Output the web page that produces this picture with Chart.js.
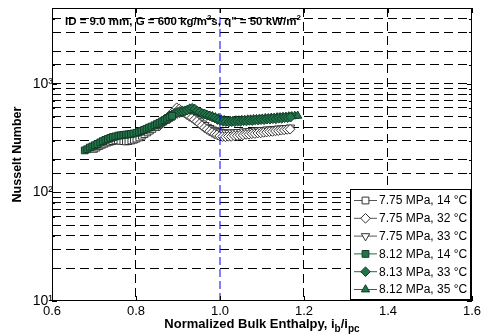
<!DOCTYPE html>
<html><head><meta charset="utf-8">
<script src="https://cdn.jsdelivr.net/npm/chart.js@4.4.0/dist/chart.umd.min.js"></script>
<style>html,body{margin:0;padding:0;background:#fff}#wrap{width:484px;height:336px}</style>
</head><body><div id="wrap"><canvas id="c" width="484" height="336"></canvas></div>
<script>
// ---- data ----
const seriesLabels = ['7.75 MPa, 14 °C','7.75 MPa, 32 °C','7.75 MPa, 33 °C','8.12 MPa, 14 °C','8.13 MPa, 33 °C','8.12 MPa, 35 °C'];

const xOpen14 = [0.700,0.706,0.713,0.719,0.725,0.732,0.738,0.744,0.751,0.757,0.763,0.770,0.776,0.782,0.789,0.795,0.801,0.808,0.814,0.820,0.827,0.833,0.839,0.846,0.852,0.858,0.865,0.871,0.877,0.884];
const nuOpen14 = [252,259,268,275,281,288,293,297,301,302,299,297,295,297,301,306,313,321,333,344,357,371,385,401,416,431,449,466,481,497];

const xOpen32 = [0.855,0.861,0.867,0.873,0.879,0.885,0.891,0.897,0.903,0.909,0.915,0.921,0.927,0.933,0.939,0.945,0.951,0.957,0.963,0.969,0.975,0.981,0.987,0.993,0.999,1.006,1.013,1.020,1.027,1.034,1.041,1.048,1.055,1.062,1.069,1.076,1.083,1.090,1.097,1.104,1.111,1.118,1.125,1.132,1.139,1.146,1.153,1.160,1.167];
const nuOpen32 = [408,431,451,479,503,536,566,603,588,566,541,521,503,489,468,451,429,413,394,381,367,357,345,339,331,327,325,328,328,332,333,337,338,342,343,347,348,352,353,357,359,363,364,368,370,374,376,380,382];

const xOpen33 = [0.880,0.886,0.892,0.898,0.904,0.910,0.916,0.922,0.928,0.934,0.940,0.946,0.952,0.958,0.964,0.970,0.976,0.982,0.988,0.994,1.000,1.007,1.014,1.021,1.028,1.035,1.042,1.049,1.056,1.063,1.070,1.077,1.084,1.091,1.098,1.105,1.112,1.119,1.126,1.133,1.140,1.147,1.154,1.161,1.168];
const nuOpen33 = [478,499,519,531,541,547,553,544,531,511,493,471,453,433,419,403,393,381,375,367,364,358,358,355,358,357,361,361,365,365,369,369,373,373,377,377,381,381,385,385,389,389,393,393,397];

const xGreen14 = [0.678,0.684,0.690,0.696,0.702,0.708,0.715,0.721,0.727,0.733,0.739,0.745,0.751,0.758,0.764,0.770,0.776,0.782,0.788,0.794,0.801,0.807,0.813,0.819,0.825,0.831,0.837,0.844,0.850,0.856,0.862,0.868,0.874,0.880,0.886];
const nuGreen14 = [244,250,259,265,272,279,289,297,305,311,318,324,328,334,336,339,341,343,346,349,354,360,367,376,385,395,404,415,426,438,451,463,477,492,507];

const xGreen33 = [0.862,0.868,0.874,0.880,0.886,0.892,0.898,0.904,0.910,0.916,0.922,0.928,0.934,0.940,0.946,0.952,0.958,0.964,0.970,0.976,0.982,0.988,0.994,1.000,1.007,1.014,1.021,1.028,1.035,1.042,1.049,1.056,1.063,1.070,1.077,1.084,1.091,1.098,1.105,1.112,1.119,1.126,1.133,1.140,1.147,1.154,1.161,1.168];
const nuGreen33 = [452,472,486,507,520,539,548,557,559,566,574,591,597,586,563,549,533,526,513,506,493,484,469,461,451,449,445,448,448,452,451,456,455,460,459,464,463,468,467,473,472,477,476,482,481,487,488,493];

const xGreen35 = [0.905,0.912,0.919,0.926,0.933,0.940,0.947,0.954,0.961,0.968,0.975,0.982,0.989,0.996,1.003,1.010,1.017,1.024,1.031,1.038,1.045,1.052,1.059,1.066,1.073,1.080,1.087,1.094,1.101,1.108,1.115,1.122,1.129,1.136,1.143,1.150,1.157,1.164,1.171,1.178,1.185];
const nuGreen35 = [538,553,561,567,560,556,546,541,527,519,508,503,491,481,469,463,457,457,456,460,460,464,465,469,469,473,473,477,478,482,482,487,487,491,492,496,497,501,502,506,508];

const pcLineX = [1, 1];
const pcLineY = [10, 5000];

const xTickValues = [0.6, 0.8, 1.0, 1.2, 1.4, 1.6];
const yMajorLabels = {10: '10¹', 100: '10²', 1000: '10³'};
const annotationParts = ['ID = 9.0 mm, G = 600 kg/m', '2', 's, q" = 50 kW/m', '2'];
const xTitleParts = ['Normalized Bulk Enthalpy, i', 'b', '/i', 'pc'];
const yTitle = 'Nusselt Number';

// ---- styling ----
const FONT = '"Liberation Sans", Arial, Helvetica, sans-serif';
Chart.defaults.font.family = FONT;
const OPEN_EDGE = '#333333', OPEN_LINE = '#555555';
const GREEN_FILL = '#22744a', GREEN_EDGE = '#123d27', GREEN_LINE = '#1f6b44';

const pts = (xs, ys) => xs.map((x, i) => ({x: x, y: ys[i]}));

function mk(label, xs, ys, style, open, rot) {
  return {
    label: label, data: pts(xs, ys), showLine: true,
    borderColor: open ? OPEN_LINE : GREEN_LINE, borderWidth: 1,
    pointStyle: style, pointRotation: rot || 0,
    pointRadius: 4.8,
    pointBackgroundColor: open ? '#ffffff' : GREEN_FILL,
    pointBorderColor: open ? OPEN_EDGE : GREEN_EDGE,
    pointBorderWidth: 1, order: open ? 2 : 1, _legend: true
  };
}

const datasets = [
  mk(seriesLabels[0], xOpen14, nuOpen14, 'rect', true),
  mk(seriesLabels[1], xOpen32, nuOpen32, 'rectRot', true),
  mk(seriesLabels[2], xOpen33, nuOpen33, 'triangle', true, 180),
  mk(seriesLabels[3], xGreen14, nuGreen14, 'rect', false),
  mk(seriesLabels[4], xGreen33, nuGreen33, 'rectRot', false),
  mk(seriesLabels[5], xGreen35, nuGreen35, 'triangle', false),
  {label: 'i_b/i_pc = 1', data: pts(pcLineX, pcLineY), showLine: true, borderColor: '#0000ff',
   borderWidth: 1, borderDash: [8, 4], pointRadius: 0, order: 0, _legend: false}
];

const deco = {
  id: 'deco',
  afterDraw(chart) {
    const ctx = chart.ctx, a = chart.chartArea;
    const xs = chart.scales.x, ys = chart.scales.y;
    ctx.save();
    ctx.strokeStyle = '#000'; ctx.lineWidth = 1; ctx.setLineDash([]);
    ctx.strokeRect(Math.round(a.left) + 0.5, Math.round(a.top) + 0.5, Math.round(a.right - a.left) - 1, Math.round(a.bottom - a.top) - 1);
    ctx.beginPath();
    xTickValues.forEach(v => {
      const px = Math.round(xs.getPixelForValue(v)) + 0.5;
      ctx.moveTo(px, a.bottom); ctx.lineTo(px, a.bottom - 5);
      ctx.moveTo(px, a.top); ctx.lineTo(px, a.top + 5);
    });
    ys.ticks.forEach(t => {
      const py = Math.round(ys.getPixelForValue(t.value)) + 0.5;
      const len = yMajorLabels[t.value] ? 5 : 3;
      ctx.moveTo(a.left, py); ctx.lineTo(a.left + len, py);
      ctx.moveTo(a.right, py); ctx.lineTo(a.right - len, py);
    });
    ctx.stroke();

    ctx.fillStyle = '#000'; ctx.textBaseline = 'alphabetic'; ctx.textAlign = 'left';
    let x = 65; const by = 24.5;
    annotationParts.forEach((p, i) => {
      const sup = i % 2 === 1;
      ctx.font = 'bold ' + (sup ? 8 : 11.5) + 'px ' + FONT;
      ctx.fillText(p, x, sup ? by - 5 : by);
      x += ctx.measureText(p).width;
    });

    const widths = xTitleParts.map((p, i) => {
      ctx.font = 'bold ' + (i % 2 ? 10 : 13) + 'px ' + FONT; return ctx.measureText(p).width;
    });
    let tx = (a.left + a.right) / 2 - widths.reduce((s, w) => s + w, 0) / 2;
    xTitleParts.forEach((p, i) => {
      const sub = i % 2 === 1;
      ctx.font = 'bold ' + (sub ? 10 : 13) + 'px ' + FONT;
      ctx.fillText(p, tx, sub ? 332 : 328);
      tx += widths[i];
    });

    ctx.save();
    ctx.translate(18, (a.top + a.bottom) / 2);
    ctx.rotate(-Math.PI / 2);
    ctx.font = 'bold 12.5px ' + FONT; ctx.textAlign = 'center'; ctx.textBaseline = 'middle';
    ctx.fillText(yTitle, 0, 0);
    ctx.restore();

    const L = 350.5, T = 189.5, W = 120, H = 110;
    ctx.fillStyle = '#fff'; ctx.fillRect(L, T, W, H);
    ctx.strokeStyle = '#000'; ctx.strokeRect(L, T, W, H);
    chart.data.datasets.filter(d => d._legend).forEach((d, i) => {
      const cy = 200.5 + i * 17.8;
      ctx.strokeStyle = d.borderColor; ctx.lineWidth = 1; ctx.setLineDash([]);
      ctx.beginPath(); ctx.moveTo(354, cy); ctx.lineTo(377, cy); ctx.stroke();
      ctx.fillStyle = d.pointBackgroundColor; ctx.strokeStyle = d.pointBorderColor;
      Chart.helpers.drawPoint(ctx, {pointStyle: d.pointStyle, rotation: d.pointRotation, radius: 4.8, borderWidth: 1}, 365.5, cy);
      ctx.fillStyle = '#000'; ctx.font = '12px ' + FONT; ctx.textAlign = 'left'; ctx.textBaseline = 'middle';
      ctx.fillText(d.label, 379, cy + 0.5);
    });
    ctx.restore();
  }
};

new Chart(document.getElementById('c'), {
  type: 'scatter',
  data: {datasets: datasets},
  options: {
    responsive: false, animation: false, devicePixelRatio: 1,
    layout: {padding: {top: 8, right: 11, left: 0, bottom: 0}},
    plugins: {legend: {display: false}, tooltip: {enabled: false}},
    scales: {
      x: {
        type: 'linear', min: 0.6, max: 1.6,
        afterFit: s => { s.height = 35; },
        afterBuildTicks: s => { s.ticks = xTickValues.map(v => ({value: v})); },
        ticks: {color: '#000', font: {size: 13}, padding: 3, maxRotation: 0, autoSkip: false},
        grid: {drawTicks: false, lineWidth: 1,
          color: c => (c.tick && (c.tick.value === 1 || c.tick.value === 0.6 || c.tick.value === 1.6)) ? 'rgba(0,0,0,0)' : '#000'},
        border: {display: false, dash: [9, 5]}
      },
      y: {
        type: 'logarithmic', min: 10, max: 5000,
        afterFit: s => { s.width = 52; },
        ticks: {color: '#000', font: {size: 14}, padding: -1, autoSkip: false,
          callback: v => yMajorLabels[v] || ''},
        grid: {drawTicks: false, lineWidth: 1,
          color: c => (c.tick && (c.tick.value === 10 || c.tick.value === 5000)) ? 'rgba(0,0,0,0)' : '#000'},
        border: {display: false, dash: [9, 5]}
      }
    }
  },
  plugins: [deco]
});
</script></body></html>
